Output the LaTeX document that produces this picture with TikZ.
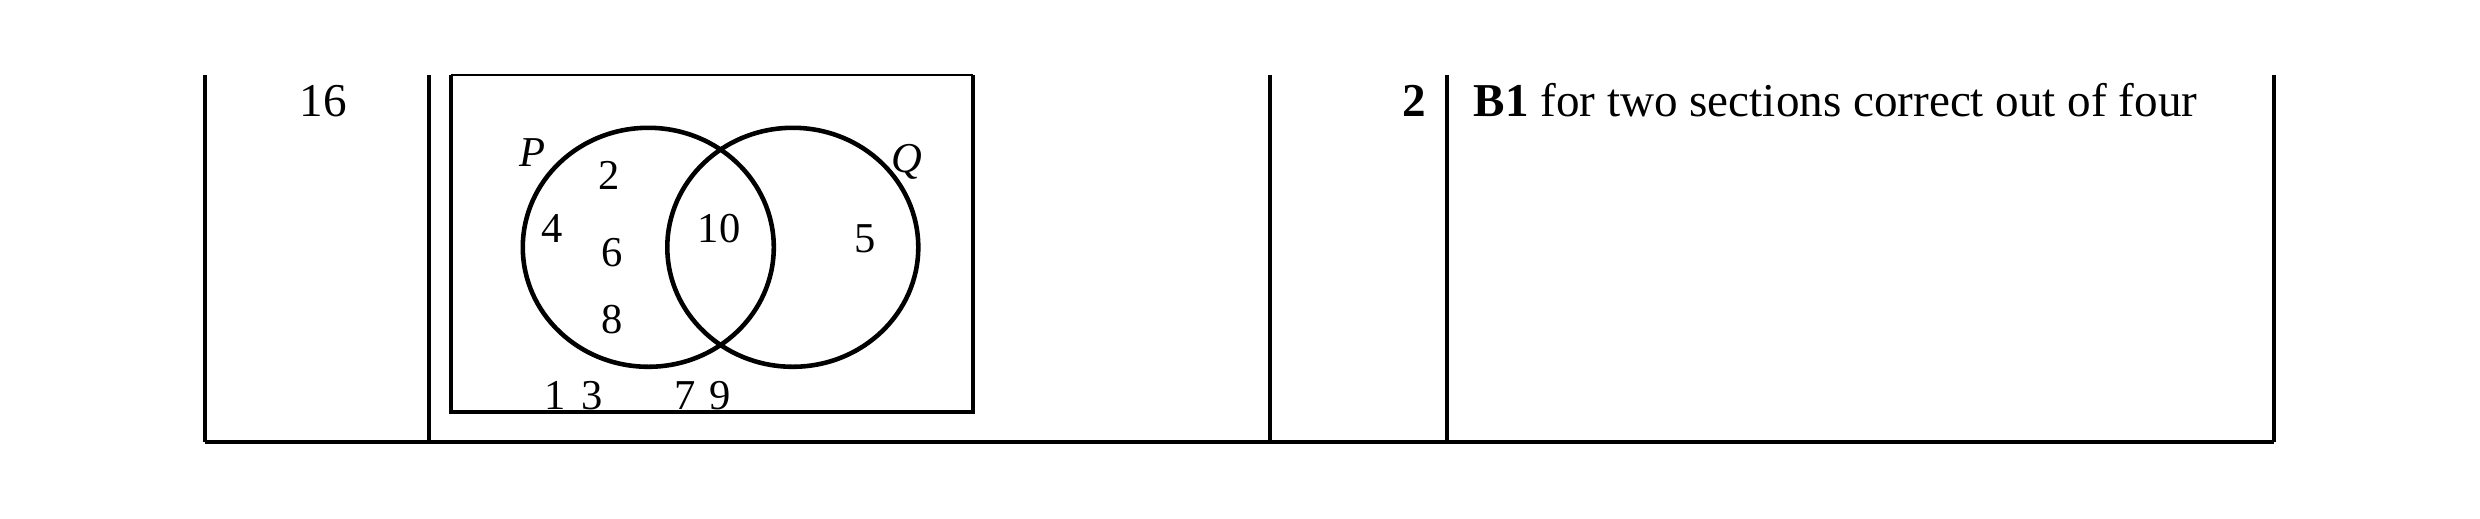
\documentclass[tikz,border=0pt]{standalone}
\usepackage{fontspec}
\setmainfont{Liberation Serif}
\begin{document}
\begin{tikzpicture}[x=0.01cm,y=-0.01cm,
  rule/.style={line width=1pt},
  vennline/.style={line width=1.3pt},
  tabtext/.style={inner sep=0pt,font=\fontsize{13.4}{16}\selectfont},
  venntext/.style={inner sep=0pt,anchor=base,font=\fontsize{12.1}{14}\selectfont}]
\useasboundingbox (0,0) rectangle (2480,519);
% table rules
\coordinate (tl1) at (205,75);
\coordinate (bl1) at (205,442);
\coordinate (tl2) at (429,75);
\coordinate (bl2) at (429,442);
\coordinate (tl3) at (1270,75);
\coordinate (bl3) at (1270,442);
\coordinate (tl4) at (1447,75);
\coordinate (bl4) at (1447,442);
\coordinate (tl5) at (2274,75);
\coordinate (bl5) at (2274,442);
\draw[rule] (tl1) -- (bl1);
\draw[rule] (tl2) -- (bl2);
\draw[rule] (tl3) -- (bl3);
\draw[rule] (tl4) -- (bl4);
\draw[rule] (tl5) -- (bl5);
\draw[rule] (bl1) -- (bl5);
% table texts
\node[tabtext,anchor=base] (qnum) at (323,116.5) {16};
\node[tabtext,anchor=base east] (mark) at (1427,117) {\bfseries 2};
\node[tabtext,anchor=base west] (guid) at (1473,117) {\textbf{B1} for two sections correct out of four};
% Venn box
\coordinate (bxa) at (451,75);
\coordinate (bxb) at (973,75);
\coordinate (bxc) at (973,412);
\coordinate (bxd) at (451,412);
\draw[line width=0.5pt] (bxa) -- (bxb);
\draw[line width=1.15pt] (bxb) -- (bxc) -- (bxd) -- (bxa);
% circles
\draw[vennline] (648.3,247.3) ellipse [x radius=125.5, y radius=119.5];
\draw[vennline] (792.8,247.3) ellipse [x radius=125.5, y radius=119.5];
% Venn texts
\node[venntext] (lp) at (532,166.7) {\itshape P};
\node[venntext] (lq) at (907,173) {\itshape Q};
\node[venntext] (n2) at (608.7,189.3) {2};
\node[venntext] (n4) at (551.7,242.7) {4};
\node[venntext] (n6) at (612,266.7) {6};
\node[venntext] (n8) at (612,333.3) {8};
\node[venntext] (n10) at (719,242.7) {10};
\node[venntext] (n5) at (865,252.3) {5};
\node[venntext] (n13) at (573.5,410) {1\hspace{0.36em}3};
\node[venntext] (n79) at (702.8,410) {7\hspace{0.33em}9};
\end{tikzpicture}
\end{document}
